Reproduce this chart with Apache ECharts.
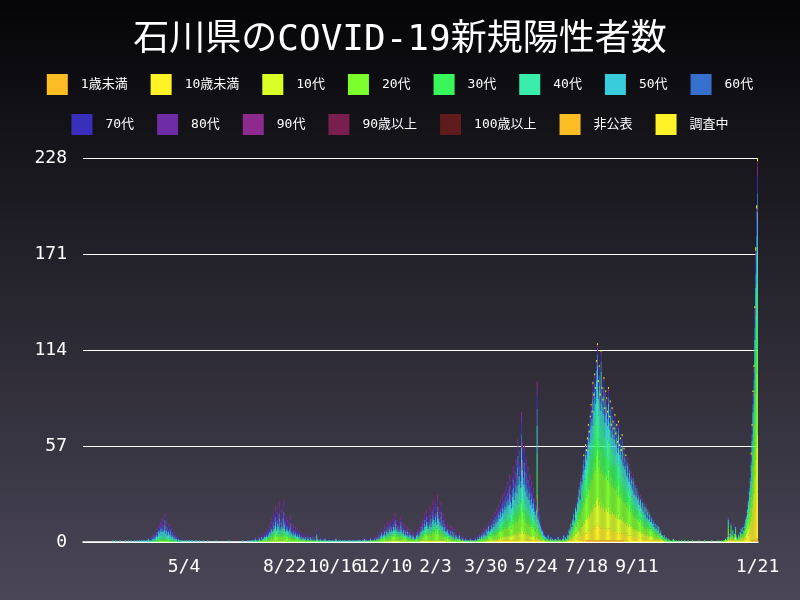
<!DOCTYPE html>
<html><head><meta charset="utf-8">
<script src="https://cdn.jsdelivr.net/npm/echarts@6/dist/echarts.min.js"></script>
<style>html,body{margin:0;padding:0;}#c{width:800px;height:600px;}</style>
</head><body><div id="c"></div>
<script>
const startDate = [2020, 0, 15];
const labelIndices = [110, 220, 275, 330, 385, 440, 495, 550, 605, 737];
const yTicks = [0, 57, 114, 171, 228];
const ageGroups = ['1歳未満','10歳未満','10代','20代','30代','40代','50代','60代','70代','80代','90代','90歳以上','100歳以上','非公表','調査中'];
const ageColors = ['#fbbd23','#fff226','#d9ff26','#7dff2e','#38f75a','#38eeaa','#38ccdd','#3670cc','#3a2fbc','#6e2ca6','#8e2a8e','#7a1e50','#601c1c','#fbbd23','#fff226'];
const dailyTotals = [
0,0,0,0,0,0,0,0,0,0,0,0,0,0,0,0,0,0,0,0,0,0,0,0,0,0,0,0,0,0,
0,0,1,0,0,1,0,0,0,0,1,0,0,0,0,0,1,0,0,1,0,0,1,0,0,0,1,0,0,1,
0,1,0,1,2,0,1,1,0,2,1,3,1,2,2,4,3,5,4,
6,8,5,10,9,12,11,14,10,13,18,9,12,8,10,7,11,6,8,5,4,6,3,4,2,3,1,2,1,1,0,2,1,0,
1,0,2,1,0,1,1,0,0,1,0,1,0,0,1,0,0,0,1,0,0,0,0,1,0,0,0,0,0,0,0,0,1,0,0,0,0,0,0,0,0,0,0,0,0,0,1,0,0,0,0,0,0,0,0,0,0,0,0,0,0,1,0,0,0,0,0,1,0,1,0,1,
1,2,1,3,2,1,2,4,3,2,5,3,4,6,5,8,6,7,10,9,12,
14,11,18,15,22,13,19,16,25,12,17,20,14,26,18,11,15,13,10,12,16,9,11,8,10,7,9,6,8,5,7,4,6,3,5,
4,3,5,2,4,3,2,5,3,2,4,2,3,2,8,3,2,1,3,2,1,2,1,3,1,2,0,1,2,1,0,1,2,0,1,3,1,0,1,2,1,0,1,0,2,1,0,1,0,1,2,1,0,1,1,0,2,1,0,1,
1,2,1,0,1,2,3,1,2,1,0,2,1,3,2,1,2,3,2,4,3,
3,5,4,6,8,5,7,10,6,9,12,8,11,14,9,13,10,15,12,18,11,14,10,13,9,16,12,8,11,7,10,6,9,5,8,6,7,4,6,5,3,4,6,8,5,7,9,
10,12,15,11,18,14,20,16,13,17,22,15,19,26,21,18,24,17,29,22,19,16,25,14,18,12,15,10,
9,11,8,7,10,6,9,5,8,4,6,5,3,4,6,3,2,4,3,2,1,3,2,1,2,1,3,2,1,2,2,1,3,2,4,3,5,4,6,5,8,7,9,6,10,8,12,9,
10,14,11,16,13,18,15,20,17,22,19,25,21,28,24,30,26,33,29,36,31,40,34,28,38,45,35,42,50,40,62,48,55,44,78,60,47,58,42,50,38,45,35,40,30,36,28,32,25,22,26,96,18,20,15,12,10,8,6,5,4,
4,3,5,2,3,4,2,3,1,2,3,2,1,4,2,3,2,1,3,5,2,4,3,6,5,8,
8,12,10,15,18,14,22,20,26,30,35,28,40,38,45,52,48,58,55,62,70,66,75,82,78,95,88,100,92,108,
118,96,105,88,114,92,85,98,80,90,86,78,92,75,84,70,80,72,68,76,65,70,60,72,58,62,55,64,50,56,
48,52,44,50,40,46,38,42,35,40,32,36,30,34,28,30,25,28,22,26,20,24,18,22,16,20,15,18,13,16,12,14,10,12,9,11,8,10,6,7,
5,4,3,4,2,3,2,1,2,1,1,0,1,2,1,0,1,0,0,1,0,0,1,0,0,1,0,0,0,1,0,0,0,0,1,0,0,0,0,0,0,1,0,0,0,0,0,1,0,0,0,0,0,0,0,1,0,0,0,0,0,0,1,0,0,0,1,0,1,
1,2,1,3,15,4,6,12,5,8,3,6,10,4,2,5,3,7,9,6,10,8,12,15,18,22,28,35,42,53,70,90,105,140,175,200,228
];
// age composition per period (percent), periods start at these day indices
const eraStarts = [0, 181, 301, 441, 531, 701];
const eraShares = [
  [0,0,1,6,10,16,22,18,12,8,4,3,0,0,0],
  [0,1,2,18,12,10,12,12,14,10,5,3,0,0,0],
  [0,1,4,22,12,10,12,11,10,8,5,3,0,0,1],
  [0,3,8,18,13,13,16,10,9,5,3,1,0,0,0],
  [1,8,14,24,17,14,11,5,3,1,1,0,0,0,1],
  [1,12,15,22,15,12,9,5,4,2,1,1,0,0,1]
];

const cats = dailyTotals.map((_, i) => {
  const d = new Date(startDate[0], startDate[1], startDate[2] + i);
  return (d.getMonth() + 1) + '/' + d.getDate();
});
const seriesData = ageGroups.map(() => []);
dailyTotals.forEach((t, i) => {
  let e = 0; for (let k = 0; k < eraStarts.length; k++) if (i >= eraStarts[k]) e = k;
  const sh = eraShares[e]; const sum = sh.reduce((a, b) => a + b, 0);
  let cum = 0, prev = 0;
  sh.forEach((s, k) => { cum += s; const r = Math.round(t * cum / sum); seriesData[k].push(r - prev); prev = r; });
});
const labelSet = new Set(labelIndices);
const mono = '"DejaVu Sans Mono","Noto Sans CJK JP",monospace';
const chart = echarts.init(document.getElementById('c'));
const legendBase = { icon: 'rect', itemWidth: 21, itemHeight: 21, textStyle: { color: '#fff', fontSize: 13, fontFamily: mono, padding: [0, 0, 0, 8] }, itemGap: 23 };
chart.setOption({
  backgroundColor: { type: 'linear', x: 0, y: 0, x2: 0, y2: 1, colorStops: [{ offset: 0, color: '#050507' }, { offset: 1, color: '#4a4657' }] },
  animation: false,
  title: { text: '石川県のCOVID-19新規陽性者数', left: 'center', top: 18, textStyle: { color: '#fff', fontSize: 36, fontWeight: 'normal', fontFamily: mono } },
  legend: [
    Object.assign({ data: ageGroups.slice(0, 8), top: 69, left: 'center' }, legendBase),
    Object.assign({ data: ageGroups.slice(8), top: 109, left: 'center' }, legendBase)
  ],
  grid: { left: 83, right: 42, top: 158, bottom: 58 },
  xAxis: {
    type: 'category', data: cats,
    axisLine: { lineStyle: { color: '#fff', width: 1.5 } }, axisTick: { show: false },
    axisLabel: { color: '#fff', fontSize: 18, fontFamily: mono, interval: (i) => labelSet.has(i), margin: 16 }
  },
  yAxis: {
    type: 'value', min: yTicks[0], max: yTicks[yTicks.length - 1], interval: 57,
    axisLine: { show: false }, axisTick: { show: false },
    axisLabel: { color: '#fff', fontSize: 18, fontFamily: mono, margin: 16 },
    splitLine: { lineStyle: { color: '#fff', width: 1.2 } }
  },
  series: ageGroups.map((n, k) => ({
    name: n, type: 'bar', stack: 'a', data: seriesData[k], barCategoryGap: 0, barWidth: '100%',
    itemStyle: { color: ageColors[k] }
  }))
});
</script></body></html>
